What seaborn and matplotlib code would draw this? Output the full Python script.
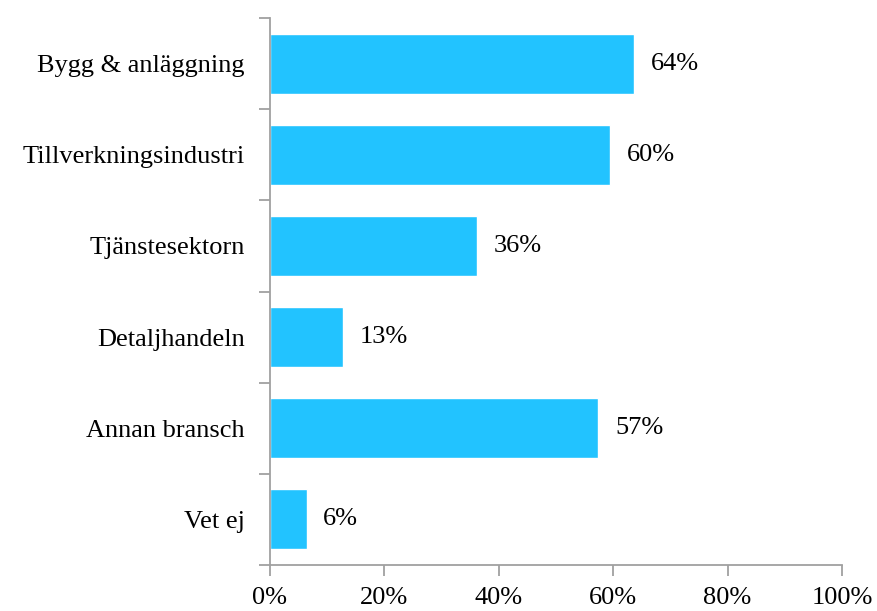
import pandas as pd
import matplotlib.pyplot as plt
import seaborn as sns
from matplotlib.ticker import PercentFormatter

# Data
categories = ["Bygg & anläggning", "Tillverkningsindustri", "Tjänstesektorn",
              "Detaljhandeln", "Annan bransch", "Vet ej"]
shares = [0.636, 0.595, 0.362, 0.128, 0.574, 0.064]

df = pd.DataFrame({"bransch": categories, "andel": shares})

sns.set_style("white")
plt.rcParams['font.family'] = ['Liberation Serif', 'DejaVu Serif']
plt.rcParams['text.color'] = 'black'
plt.rcParams['xtick.color'] = 'black'
plt.rcParams['ytick.color'] = 'black'

fig = plt.figure(figsize=(8.78, 6.11), dpi=100)
ax = fig.add_axes([0.3075, 0.0753, 0.6515, 0.8952])

sns.barplot(data=df, x="andel", y="bransch", orient="h", color="#22C3FF",
            saturation=1, width=0.66, ax=ax)

ax.set_xlim(0, 1)
ax.set_ylim(len(categories) - 0.5, -0.5)
ax.xaxis.set_major_formatter(PercentFormatter(1.0, decimals=0))
ax.set_xticks([0, 0.2, 0.4, 0.6, 0.8, 1.0])
# tick marks between categories, labels at category centres
ax.set_yticks([i - 0.5 for i in range(len(categories) + 1)], minor=False)
ax.set_yticklabels([])
ax.set_yticks(range(len(categories)), minor=True)
ax.set_yticklabels(categories, minor=True)
ax.tick_params(axis='y', which='minor', left=True, length=0, pad=18,
               labelsize=19, labelcolor='black')
ax.tick_params(axis='y', which='major', left=True, length=8, width=1.3,
               color="#A0A0A0", direction='out')
ax.tick_params(axis='x', bottom=True, length=8, width=1.3, color="#A0A0A0",
               labelsize=19, pad=8, labelcolor='black')
ax.set_xlabel("")
ax.set_ylabel("")

for side in ["top", "right"]:
    ax.spines[side].set_visible(False)
for side in ["left", "bottom"]:
    ax.spines[side].set_color("#A0A0A0")
    ax.spines[side].set_linewidth(1.3)

ax.bar_label(ax.containers[0], labels=[f"{v:.0%}" for v in shares],
             padding=12, fontsize=19, color='black')

fig.savefig("out.png", dpi=100)
